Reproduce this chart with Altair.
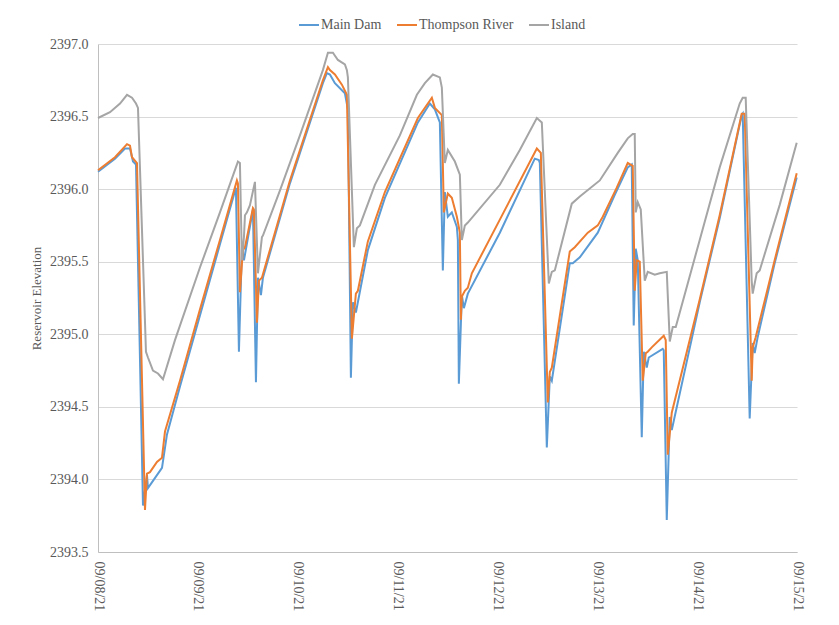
import altair as alt
import pandas as pd

# hours since 09/08/21 00:00 and reservoir elevation
main_dam_hours = [0, 4.08, 6.49, 7.69, 8.41, 9.13, 10.81, 11.77, 12.01, 13.21, 15.38, 16.58, 19.70, 24.50, 29.31,
                  33.15, 33.87, 34.59, 35.08, 37.24, 37.96, 38.44, 39.16, 39.64, 46.13, 54.05, 55.01, 55.74,
                  56.94, 59.34, 60.06, 60.78, 61.26, 61.98, 64.86, 68.95, 76.88, 79.76, 80.96, 82.16, 82.88,
                  83.36, 84.08, 85.04, 86.25, 86.49, 86.73, 87.45, 87.93, 88.89, 96.58, 104.98, 105.95, 106.19,
                  107.87, 108.59, 109.07, 113.39, 114.11, 115.80, 120.12, 124.20, 127.32, 128.28, 128.76,
                  129.24, 129.73, 130.69, 131.17, 131.89, 132.37, 135.73, 135.97, 136.70, 137.42, 137.90,
                  144.62, 149.42, 154.71, 154.95, 156.63, 157.35, 157.83, 158.55, 162.63, 167.93]
main_dam_elev = [2396.12, 2396.21, 2396.28, 2396.28, 2396.19, 2396.17, 2393.82, 2394.03, 2393.94, 2393.99, 2394.08,
                 2394.31, 2394.64, 2395.13, 2395.62,
                 2396.01, 2394.88, 2395.60, 2395.51, 2395.86, 2394.67, 2395.39, 2395.27, 2395.39, 2396.04,
                 2396.73, 2396.80, 2396.79,
                 2396.73, 2396.66, 2396.55, 2394.70, 2395.22, 2395.15, 2395.58, 2395.94, 2396.46, 2396.59,
                 2396.55, 2396.46, 2395.44,
                 2395.98, 2395.81, 2395.84, 2395.74, 2395.65, 2394.66, 2395.27, 2395.18, 2395.28, 2395.70,
                 2396.21, 2396.20, 2396.18,
                 2394.22, 2394.71, 2394.68, 2395.49, 2395.49, 2395.53, 2395.70, 2395.96, 2396.15, 2396.17,
                 2395.06,
                 2395.59, 2395.51, 2394.29, 2394.88, 2394.77, 2394.84, 2394.90, 2394.89, 2393.72, 2394.43,
                 2394.34,
                 2395.22, 2395.80, 2396.51, 2396.52, 2394.42, 2394.94, 2394.87, 2394.98, 2395.49, 2396.08]

thompson_hours = [0, 4.08, 6.97, 7.69, 8.17, 9.37, 11.29, 11.77, 12.49, 14.17, 15.38, 16.10, 19.70, 24.50, 29.31,
                  33.39, 33.63, 34.11, 34.83, 35.32, 37.24, 37.48, 38.20, 38.68, 39.40, 46.13, 54.05, 55.26,
                  55.74, 56.94, 58.62, 59.82, 61.02, 61.98, 62.46, 64.86, 68.95, 76.88, 80.24, 80.96, 82.64,
                  83.12, 84.08, 85.04, 86.25, 86.97, 87.21, 87.45, 88.17, 88.89, 89.85, 96.58, 105.47, 106.43,
                  108.11, 108.59, 109.07, 113.39, 114.59, 117.72, 120.12, 121.32, 124.68, 127.32, 128.52,
                  129.00, 129.49, 130.21, 130.93, 131.65, 132.13, 133.09, 135.97, 136.45, 136.94, 137.90,
                  144.62, 149.42, 154.71, 155.43, 157.11, 157.35, 158.07, 162.63, 167.93]
thompson_elev = [2396.13, 2396.22, 2396.31, 2396.30, 2396.22, 2396.18, 2393.79, 2394.04, 2394.05, 2394.12,
                 2394.15, 2394.33, 2394.68, 2395.17, 2395.65,
                 2396.06, 2396.04, 2395.29, 2395.58, 2395.60, 2395.87, 2395.86, 2395.08, 2395.37, 2395.39,
                 2396.06, 2396.75, 2396.84,
                 2396.82, 2396.79, 2396.72, 2396.65, 2394.97, 2395.28, 2395.30, 2395.64, 2395.98, 2396.49,
                 2396.63, 2396.56, 2396.51,
                 2395.84, 2395.97, 2395.94, 2395.81, 2395.70, 2395.10, 2395.26, 2395.30, 2395.32, 2395.42,
                 2395.79, 2396.28, 2396.25,
                 2394.53, 2394.74, 2394.77, 2395.57, 2395.60, 2395.70, 2395.75, 2395.81, 2396.01, 2396.18,
                 2396.16,
                 2395.30, 2395.51, 2395.50, 2394.68, 2394.87, 2394.88, 2394.91, 2394.99, 2394.96, 2394.17,
                 2394.46,
                 2395.24, 2395.82, 2396.52, 2396.52, 2394.68, 2394.91, 2394.98, 2395.51, 2396.11]

island_hours = [0, 2.88, 5.29, 6.97, 8.17, 9.13, 9.61, 11.53, 12.01, 13.21, 14.41, 15.62, 18.50, 24.50, 29.31,
                33.63, 34.11, 34.59, 35.08, 35.32, 35.80, 36.52, 37.72, 38.44, 39.40, 39.64, 43.72, 48.53,
                54.05, 55.26, 56.46, 57.66, 59.34, 59.82, 60.06, 61.50, 62.22, 62.94, 66.55, 72.55, 76.64,
                78.56, 80.48, 82.16, 82.64, 83.36, 84.08, 85.77, 86.97, 87.45, 88.17, 88.89, 96.58, 101.38,
                105.47, 106.67, 108.35, 109.07, 109.79, 113.87, 115.80, 120.60, 124.92, 127.32, 128.52,
                129.00, 129.24, 129.73, 130.45, 131.41, 132.13, 133.81, 135.01, 136.70, 137.42, 138.14,
                138.86, 144.62, 149.42, 154.23, 154.95, 155.67, 157.11, 157.35, 158.31, 159.03, 163.83,
                167.93]
island_elev = [2396.49, 2396.53, 2396.59, 2396.65, 2396.63, 2396.59, 2396.56, 2394.88, 2394.84, 2394.75, 2394.73,
               2394.69, 2394.96, 2395.46, 2395.84,
               2396.19, 2396.18, 2395.51, 2395.67, 2395.82, 2395.84, 2395.89, 2396.05, 2395.42, 2395.67,
               2395.68, 2395.99, 2396.37,
               2396.82, 2396.94, 2396.94, 2396.89, 2396.86, 2396.82, 2396.77, 2395.60, 2395.73, 2395.75,
               2396.03, 2396.37, 2396.65,
               2396.73, 2396.79, 2396.77, 2396.70, 2396.18, 2396.27, 2396.19, 2396.10, 2395.65, 2395.75,
               2395.77, 2396.03, 2396.27,
               2396.49, 2396.46, 2395.35, 2395.43, 2395.44, 2395.90, 2395.95, 2396.06, 2396.25, 2396.35,
               2396.38,
               2396.38, 2395.84, 2395.91, 2395.86, 2395.37, 2395.43, 2395.41, 2395.42, 2395.43, 2394.95,
               2395.05,
               2395.05, 2395.65, 2396.15, 2396.59, 2396.63, 2396.63, 2395.37, 2395.28, 2395.42, 2395.44,
               2395.89, 2396.32]

series_names = ["Main Dam", "Thompson River", "Island"]
series_colors = ["#5B9BD5", "#ED7D31", "#A5A5A5"]
tick_days = [8, 9, 10, 11, 12, 13, 14, 15]
y_ticks = [2393.5, 2394.0, 2394.5, 2395.0, 2395.5, 2396.0, 2396.5, 2397.0]

start = pd.Timestamp("2021-09-08 00:00:00")
frames = []
for name, hrs, vals in [(series_names[0], main_dam_hours, main_dam_elev),
                        (series_names[1], thompson_hours, thompson_elev),
                        (series_names[2], island_hours, island_elev)]:
    t = [(start + pd.Timedelta(hours=h)).strftime("%Y-%m-%dT%H:%M:%S") for h in hrs]
    frames.append(pd.DataFrame({"time": t, "elev": vals, "series": name, "order": range(len(hrs))}))
df = pd.concat(frames, ignore_index=True)

FONT = "Liberation Serif"
GRAY_TXT = "#595959"

chart = alt.Chart(df).mark_line(strokeWidth=2, interpolate="linear").encode(
    x=alt.X("time:T",
            scale=alt.Scale(domain=[alt.DateTime(year=2021, month=9, date=8),
                                    alt.DateTime(year=2021, month=9, date=15)], nice=False),
            axis=alt.Axis(values=[alt.DateTime(year=2021, month=9, date=d) for d in tick_days],
                          format="%m/%d/%y", labelAngle=90, labelAlign="left", labelBaseline="middle",
                          labelPadding=9, ticks=False, grid=False, domainColor="#BFBFBF",
                          labelFontSize=14, labelColor=GRAY_TXT, title=None,
                          labelOverlap=False, labelFlush=False)),
    y=alt.Y("elev:Q",
            scale=alt.Scale(domain=[2393.5, 2397.0], nice=False, zero=False),
            axis=alt.Axis(values=y_ticks, format=".1f", ticks=False, grid=True, gridColor="#D9D9D9",
                          domainColor="#BFBFBF", labelFontSize=14, labelColor=GRAY_TXT,
                          labelPadding=10, title="Reservoir Elevation",
                          titleFontSize=13, titleFontWeight="normal", titleColor=GRAY_TXT,
                          titlePadding=6)),
    color=alt.Color("series:N", scale=alt.Scale(domain=series_names, range=series_colors),
                    legend=alt.Legend(title=None, orient="none", direction="horizontal",
                                      legendX=200, legendY=-30, symbolType="stroke",
                                      symbolStrokeWidth=2, symbolSize=400,
                                      labelFontSize=14, labelColor=GRAY_TXT, columnPadding=11,
                                      labelOffset=1)),
    order="order:Q",
    detail="series:N",
).properties(
    width=699, height=508,
    padding={"left": 90, "top": 36, "right": 34, "bottom": 60},
    autosize=alt.AutoSizeParams(type="none"),
).configure(font=FONT).configure_view(stroke=None)

chart.save("out.html", embed_options={"renderer": "svg", "actions": False})
